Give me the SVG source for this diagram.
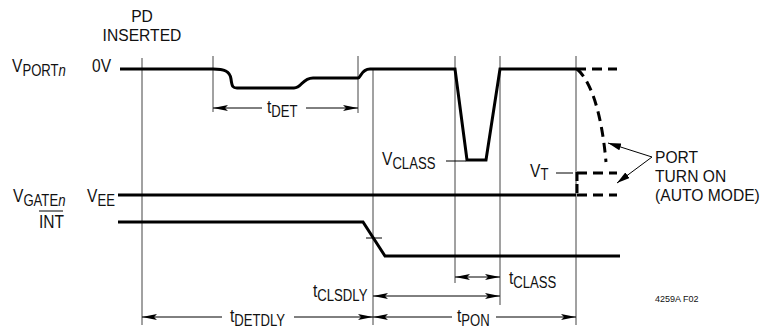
<svg xmlns="http://www.w3.org/2000/svg" width="763" height="330" viewBox="0 0 763 330">
<style>
.t{font-family:"Liberation Sans",Arial,sans-serif;font-size:19px;fill:#111}
.m{font-size:17px}
.s{font-size:16px}
.sig{fill:none;stroke:#000;stroke-width:3}
.dash{fill:none;stroke:#000;stroke-width:3;stroke-dasharray:10 6}
.grid{stroke:#444;stroke-width:1}
.dim{stroke:#000;stroke-width:1;fill:none}
.thin{stroke:#000;stroke-width:1}
</style>
<defs>
<marker id="ah" viewBox="0 0 15 6" refX="15" refY="3" markerWidth="15" markerHeight="6" markerUnits="userSpaceOnUse" orient="auto-start-reverse">
<path d="M0,0 L15,3 L0,6 L3,3 z" fill="#000"/>
</marker>
<marker id="ah2" viewBox="0 0 13 7" refX="13" refY="3.5" markerWidth="13" markerHeight="7" markerUnits="userSpaceOnUse" orient="auto">
<path d="M0,0 L13,3.5 L0,7 z" fill="#000"/>
</marker>
</defs>

<g id="gridlines">
<line class="grid" x1="142" y1="58" x2="142" y2="325"/>
<line class="grid" x1="213" y1="56" x2="213" y2="112"/>
<line class="grid" x1="358" y1="56" x2="358" y2="113"/>
<line class="grid" x1="373" y1="70" x2="373" y2="325"/>
<line class="grid" x1="455" y1="56" x2="455" y2="283"/>
<line class="grid" x1="500" y1="56" x2="500" y2="305"/>
<line class="grid" x1="576" y1="56" x2="576" y2="325"/>
</g>

<g id="labels">
<text class="t m" transform="translate(142,21.5) scale(0.92,1)" text-anchor="middle">PD</text>
<text class="t m" transform="translate(142,40.5) scale(0.92,1)" text-anchor="middle">INSERTED</text>
<text class="t" transform="translate(12,72) scale(0.82,1)">V<tspan class="s" dy="4">PORT<tspan font-style="italic">n</tspan></tspan></text>
<text class="t" transform="translate(92,72) scale(0.82,1)">0V</text>
<text class="t" transform="translate(13,202) scale(0.82,1)">V<tspan class="s" dy="4">GATE<tspan font-style="italic">n</tspan></tspan></text>
<text class="t" transform="translate(87,202) scale(0.82,1)">V<tspan class="s" dy="4">EE</tspan></text>
<text class="t" transform="translate(39,228) scale(0.82,1)">INT</text>
<line class="thin" x1="39" y1="211" x2="63" y2="211"/>
</g>

<g id="vport">
<path class="sig" d="M120,69 H213 C224,69 230,71 231,79 C232,87 233,88 237,88 H294 C302,88 302,78 313,78 H358 C361,78 361,69 370,69 H455 L467,160 H486 L500,69 H576"/>
<path class="dash" d="M576,69 H617"/>
<path class="dash" d="M577,69 C588,78 601,105 606,162"/>
</g>

<g id="vgate">
<path class="sig" d="M118,195 H576"/>
<path class="dash" d="M577,195 H617"/>
<path class="dash" d="M577,173 H617"/>
<path class="sig" d="M577,172 V195" stroke-dasharray="9 3"/>
</g>

<g id="int">
<path class="sig" d="M118,222 H363 L385,256 H620"/>
<line class="thin" x1="366" y1="238" x2="382" y2="238"/>
</g>

<g id="vclass">
<text class="t" transform="translate(382,165) scale(0.82,1)">V<tspan class="s" dy="4">CLASS</tspan></text>
<line class="thin" x1="446" y1="161" x2="466" y2="161"/>
</g>

<g id="vt">
<text class="t" transform="translate(530,177) scale(0.82,1)">V<tspan class="s" dy="3">T</tspan></text>
<line class="thin" x1="556" y1="173" x2="573" y2="173"/>
</g>

<g id="portturnon">
<text class="t m" transform="translate(655,162.5) scale(0.92,1)">PORT</text>
<text class="t m" transform="translate(655,181.5) scale(0.92,1)">TURN ON</text>
<text class="t m" transform="translate(655,200.5) scale(0.92,1)">(AUTO MODE)</text>
</g>

<g id="connectors">
<line class="dim" x1="652" y1="157" x2="608" y2="143" marker-end="url(#ah2)"/>
<line class="dim" x1="652" y1="157" x2="617" y2="183" marker-end="url(#ah2)"/>
<line class="dim" x1="213" y1="108" x2="262" y2="108" marker-start="url(#ah)"/>
<line class="dim" x1="306" y1="108" x2="358" y2="108" marker-end="url(#ah)"/>
<line class="dim" x1="455" y1="277" x2="500" y2="277" marker-start="url(#ah)" marker-end="url(#ah)"/>
<line class="dim" x1="373" y1="296" x2="500" y2="296" marker-start="url(#ah)" marker-end="url(#ah)"/>
<line class="dim" x1="142" y1="317" x2="222" y2="317" marker-start="url(#ah)"/>
<line class="dim" x1="294" y1="317" x2="373" y2="317" marker-end="url(#ah)"/>
<line class="dim" x1="373" y1="317" x2="452" y2="317" marker-start="url(#ah)"/>
<line class="dim" x1="496" y1="317" x2="576" y2="317" marker-end="url(#ah)"/>
</g>

<g id="timings">
<text class="t" transform="translate(267,113) scale(0.82,1)">t<tspan class="s" dy="4">DET</tspan></text>
<text class="t" transform="translate(509,284) scale(0.82,1)">t<tspan class="s" dy="4">CLASS</tspan></text>
<text class="t" transform="translate(313,297) scale(0.82,1)">t<tspan class="s" dy="4">CLSDLY</tspan></text>
<text class="t" transform="translate(230,322) scale(0.82,1)">t<tspan class="s" dy="4">DETDLY</tspan></text>
<text class="t" transform="translate(457,322) scale(0.82,1)">t<tspan class="s" dy="4">PON</tspan></text>
<text class="t" x="655" y="302" style="font-size:9px">4259A F02</text>
</g>
</svg>
